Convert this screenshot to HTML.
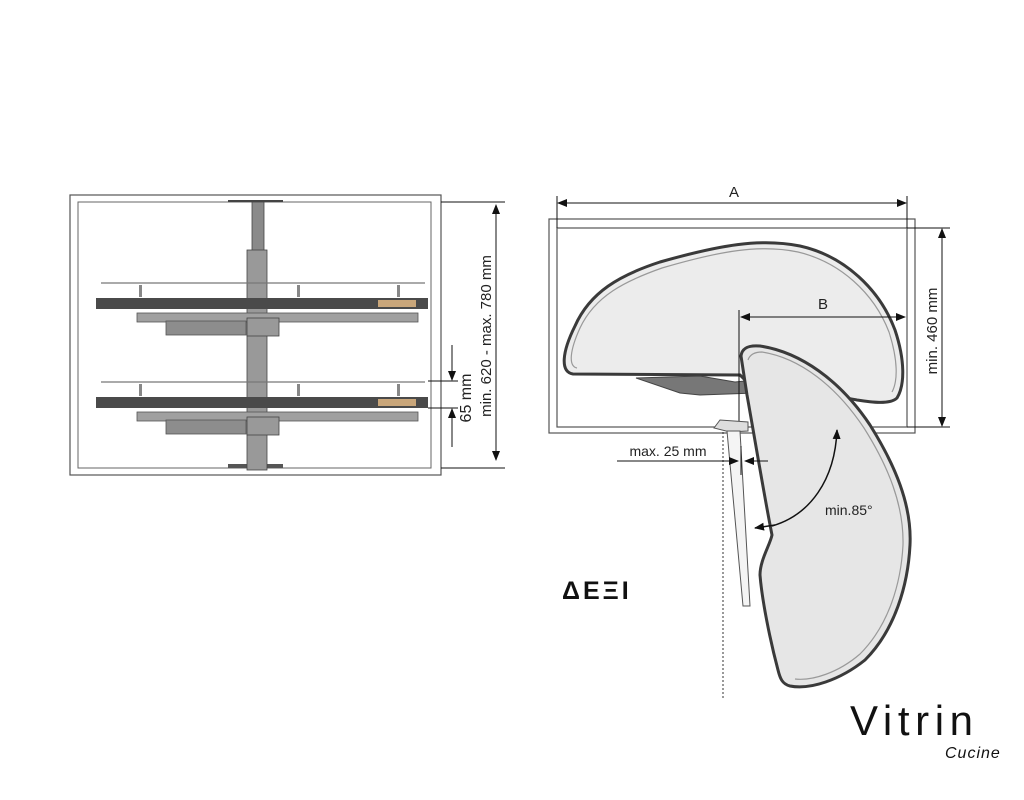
<!DOCTYPE html>
<html><head><meta charset="utf-8"><style>body{margin:0;background:#fff}svg{display:block}</style></head><body>
<svg width="1024" height="800" viewBox="0 0 1024 800" xmlns="http://www.w3.org/2000/svg" font-family="Liberation Sans, sans-serif">
<defs><marker id="a" markerWidth="10" markerHeight="8" refX="9" refY="4" orient="auto" markerUnits="userSpaceOnUse"><path d="M0,0 L10,4 L0,8 z" fill="#111"/></marker></defs>
<!-- left view -->
<rect x="70" y="195" width="371" height="280" fill="none" stroke="#555" stroke-width="1.2"/>
<rect x="78" y="202" width="353" height="266" fill="none" stroke="#666" stroke-width="1"/>
<rect x="228" y="200" width="55" height="2" fill="#444"/>
<rect x="228" y="464" width="55" height="4" fill="#555"/>
<rect x="252" y="202" width="12" height="262" fill="#8a8a8a" stroke="#444" stroke-width="0.8"/>
<rect x="247" y="250" width="20" height="220" fill="#999" stroke="#444" stroke-width="0.8"/>
<g id="sh">
<line x1="101" y1="283" x2="425" y2="283" stroke="#777" stroke-width="1.2"/>
<rect x="139" y="285" width="3" height="12" fill="#888"/><rect x="297" y="285" width="3" height="12" fill="#888"/><rect x="397" y="285" width="3" height="12" fill="#888"/>
<rect x="96" y="298" width="332" height="11" fill="#4a4a4a"/>
<rect x="378" y="300" width="38" height="7" fill="#c9a67a"/>
<rect x="137" y="313" width="281" height="9" fill="#a0a0a0" stroke="#555" stroke-width="0.8"/>
<rect x="166" y="321" width="80" height="14" fill="#8d8d8d" stroke="#555" stroke-width="0.8"/>
<rect x="247" y="318" width="32" height="18" fill="#999" stroke="#444" stroke-width="0.8"/>
</g>
<use href="#sh" y="99"/>
<line x1="441" y1="202" x2="505" y2="202" stroke="#111"/>
<line x1="441" y1="468" x2="505" y2="468" stroke="#111"/>
<line x1="496" y1="210" x2="496" y2="460" stroke="#111" marker-end="url(#a)"/>
<line x1="496" y1="460" x2="496" y2="205" stroke="#111" marker-end="url(#a)"/>
<line x1="428" y1="381" x2="458" y2="381" stroke="#111"/>
<line x1="428" y1="408" x2="458" y2="408" stroke="#111"/>
<line x1="452" y1="345" x2="452" y2="380" stroke="#111" marker-end="url(#a)"/>
<line x1="452" y1="447" x2="452" y2="409" stroke="#111" marker-end="url(#a)"/>
<text transform="translate(491,336) rotate(-90)" text-anchor="middle" font-size="15" fill="#222">min. 620 - max. 780 mm</text>
<text transform="translate(471,398) rotate(-90)" text-anchor="middle" font-size="16" fill="#222">65 mm</text>
<!-- right view -->
<rect x="549" y="219" width="366" height="214" fill="none" stroke="#555" stroke-width="1.2"/>
<rect x="557" y="228" width="350" height="199" fill="none" stroke="#555" stroke-width="1.2"/>
<line x1="557" y1="196" x2="557" y2="228" stroke="#111"/>
<line x1="907" y1="196" x2="907" y2="228" stroke="#111"/>
<line x1="565" y1="203" x2="906" y2="203" stroke="#111" marker-end="url(#a)"/>
<line x1="900" y1="203" x2="558" y2="203" stroke="#111" marker-end="url(#a)"/>
<text x="734" y="197" text-anchor="middle" font-size="15" fill="#222">A</text>
<line x1="907" y1="228" x2="950" y2="228" stroke="#111"/>
<line x1="907" y1="427" x2="950" y2="427" stroke="#111"/>
<line x1="942" y1="235" x2="942" y2="426" stroke="#111" marker-end="url(#a)"/>
<line x1="942" y1="420" x2="942" y2="229" stroke="#111" marker-end="url(#a)"/>
<text transform="translate(937,331) rotate(-90)" text-anchor="middle" font-size="15" fill="#222">min. 460 mm</text>
<!-- top shelf -->
<path d="M573,374 C560,372 562,352 575,326 C590,292 620,275 660,262 C720,245 760,238 800,246 C845,256 880,290 895,330 C905,360 905,385 897,398 C890,405 870,402 857,400 C830,395 790,385 745,380 L740,375 Z" fill="#ececec" stroke="#3a3a3a" stroke-width="3"/>
<path d="M577,368 C568,366 570,350 580,328 C595,296 625,281 662,268 C720,251 760,244 798,252 C840,262 874,293 889,332 C898,360 898,381 892,392" fill="none" stroke="#999" stroke-width="1.2"/>
<path d="M636,378 L700,376 L735,382 L755,380 L755,393 L700,395 L680,393 Z" fill="#777" stroke="#444" stroke-width="1"/>
<!-- B -->
<line x1="739" y1="310" x2="739" y2="440" stroke="#111"/>
<line x1="747" y1="317" x2="905" y2="317" stroke="#111" marker-end="url(#a)"/>
<line x1="898" y1="317" x2="741" y2="317" stroke="#111" marker-end="url(#a)"/>
<text x="823" y="309" text-anchor="middle" font-size="15" fill="#222">B</text>
<!-- door -->
<path d="M714,428 L720,420 L748,422 L748,431 L730,432 Z" fill="#ddd" stroke="#555"/>
<path d="M727,431 L740,431 L750,606 L743,606 Z" fill="#f4f4f4" stroke="#555" stroke-width="1"/>
<line x1="723" y1="432" x2="723" y2="700" stroke="#333" stroke-dasharray="2,2"/>
<!-- lower shelf -->
<path d="M741,356 C742,348 748,345 760,346 C800,352 840,380 870,425 C895,465 912,505 910,545 C908,585 895,630 865,660 C840,680 810,690 790,686 C782,684 780,678 778,670 C770,640 762,600 760,575 C760,560 770,545 772,535 C765,500 755,440 747,395 Z" fill="#e6e6e6" stroke="#3a3a3a" stroke-width="3"/>
<path d="M748,360 C750,354 755,352 762,352 C800,358 836,386 864,428 C888,466 904,505 903,545 C901,583 889,625 860,654 C838,673 812,681 795,679" fill="none" stroke="#999" stroke-width="1.2"/>
<!-- max 25 -->
<text x="668" y="456" text-anchor="middle" font-size="14" fill="#222">max. 25 mm</text>
<line x1="617" y1="461" x2="738" y2="461" stroke="#111" marker-end="url(#a)"/>
<line x1="768" y1="461" x2="745" y2="461" stroke="#111" marker-end="url(#a)"/>
<line x1="741" y1="446" x2="741" y2="475" stroke="#111"/>
<!-- angle -->
<path d="M772,526 C810,515 835,480 837,430" fill="none" stroke="#111" stroke-width="1.5" marker-end="url(#a)"/>
<path d="M775,525 L755,528" fill="none" stroke="#111" stroke-width="1.5" marker-end="url(#a)"/>
<text x="825" y="515" font-size="14" fill="#222">min.85°</text>
<text x="562" y="599" font-size="25" font-weight="bold" fill="#111" letter-spacing="3">ΔΕΞΙ</text>
<text x="850" y="735" font-size="42" fill="#111" letter-spacing="5" textLength="128" lengthAdjust="spacing">Vitrin</text>
<text x="945" y="758" font-size="16" font-style="italic" fill="#111" letter-spacing="1">Cucine</text>
</svg>
</body></html>
